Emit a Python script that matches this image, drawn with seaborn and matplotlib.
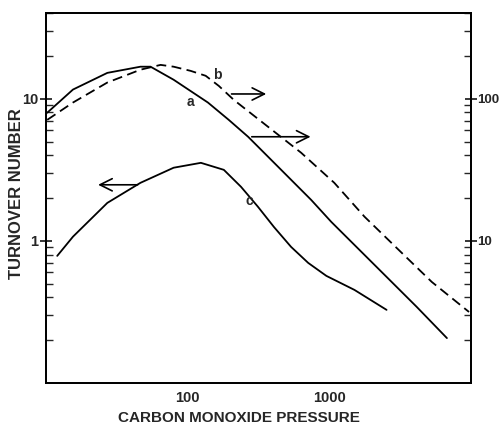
import matplotlib
matplotlib.use("Agg")
import matplotlib.pyplot as plt
import matplotlib.ticker as mticker
import seaborn as sns
import pandas as pd
import numpy as np

# ---- data ----
# curve a (solid, right axis)
a_x = [10.2, 15.5, 27.1, 46.4, 54.7, 79.6, 139, 195, 267, 457, 745, 1032, 2455, 4140, 6761]
a_y = [79.7, 116, 152, 168, 168, 136, 94, 71, 54, 31.6, 19.4, 13.6, 5.76, 3.43, 2.07]
# curve b (dashed, right axis)
b_x = [10.2, 15.5, 27.1, 46.4, 64.4, 79.6, 105, 134, 166, 212, 369, 632, 1084, 1770, 3083, 5287, 9684]
b_y = [71, 94, 130, 160, 173, 168, 157, 145, 123, 98, 63.5, 41.7, 25.6, 14.8, 8.65, 5.14, 3.16]
# curve c (solid, left axis)
c_x = [12.0, 15.5, 27.1, 46.4, 79.6, 124, 180, 238, 313, 407, 537, 709, 953, 1503, 2535]
c_y = [0.784, 1.07, 1.85, 2.56, 3.27, 3.54, 3.16, 2.40, 1.74, 1.25, 0.907, 0.70, 0.567, 0.452, 0.327]

x_ticks = [100, 1000]
left_ticks = [1, 10]
right_ticks = [10, 100]

sns.set_style("white")
plt.rcParams['font.family'] = ['Liberation Sans', 'DejaVu Sans']

fig = plt.figure(figsize=(5.0, 4.24), dpi=100)
ax = fig.add_axes([0.092, 0.0967, 0.85, 0.8723])
ax2 = ax.twinx()

dc = pd.DataFrame({"x": c_x, "y": c_y})
da = pd.DataFrame({"x": a_x, "y": a_y})
db = pd.DataFrame({"x": b_x, "y": b_y})

sns.lineplot(data=dc, x="x", y="y", ax=ax, color="black", lw=1.3, sort=False)
sns.lineplot(data=da, x="x", y="y", ax=ax2, color="black", lw=1.3, sort=False)
sns.lineplot(data=db, x="x", y="y", ax=ax2, color="black", lw=1.3, sort=False,
             dashes=False, linestyle=(0, (5.5, 3)))

for a_ in (ax, ax2):
    a_.set_xscale("log")
    a_.set_yscale("log")
    a_.set_xlim(10, 10000)
    a_.set_xlabel("")
    a_.set_ylabel("")
ax.set_ylim(0.1, 40)
ax2.set_ylim(1, 400)

ax.xaxis.set_major_locator(mticker.FixedLocator(x_ticks))
ax.xaxis.set_major_formatter(mticker.FixedFormatter([str(v) for v in x_ticks]))
ax.xaxis.set_minor_locator(mticker.LogLocator(base=10, subs=np.arange(2, 10)))
ax.xaxis.set_minor_formatter(mticker.NullFormatter())

ax.yaxis.set_major_locator(mticker.FixedLocator(left_ticks))
ax.yaxis.set_major_formatter(mticker.FixedFormatter([str(v) for v in left_ticks]))
ax.yaxis.set_minor_locator(mticker.LogLocator(base=10, subs=np.arange(2, 10)))
ax.yaxis.set_minor_formatter(mticker.NullFormatter())

ax2.yaxis.set_major_locator(mticker.FixedLocator(right_ticks))
ax2.yaxis.set_major_formatter(mticker.FixedFormatter([str(v) for v in right_ticks]))
ax2.yaxis.set_minor_locator(mticker.LogLocator(base=10, subs=np.arange(2, 10)))
ax2.yaxis.set_minor_formatter(mticker.NullFormatter())

for a_ in (ax, ax2):
    a_.tick_params(which="major", direction="inout", length=8, width=1.3,
                   labelsize=10.5, pad=1.5)
    a_.tick_params(which="minor", direction="in", length=5, width=1.0)
    for s in a_.spines.values():
        s.set_linewidth(1.3)
        s.set_color("black")
ax2.tick_params(axis="y", which="major", labelsize=9.5, pad=0.3)
ax.tick_params(axis="x", which="major", direction="in", length=8, pad=6)
ax2.tick_params(axis="x", which="both", bottom=False, labelbottom=False)
ax.tick_params(axis="y", which="both", right=False)
for lab in ax.get_xticklabels() + ax.get_yticklabels() + ax2.get_yticklabels():
    lab.set_fontweight("bold")

fig.text(0.477, 0.004, "CARBON MONOXIDE PRESSURE", fontsize=11, fontweight="bold",
         ha="center", va="baseline")
fig.text(0.034, 0.5425, "TURNOVER NUMBER", fontsize=12, fontweight="bold",
         ha="center", va="center", rotation=90)

# curve labels
ax2.text(105, 95, "a", fontsize=10, fontweight="bold", ha="center", va="center")
ax2.text(163, 147, "b", fontsize=10, fontweight="bold", ha="center", va="center")
ax.text(271, 1.91, "c", fontsize=10, fontweight="bold", ha="center", va="center")

# arrows indicating axis
arrowprops = dict(arrowstyle="->", color="black", lw=1.2, mutation_scale=22)
ax.annotate("", xy=(22.3, 2.48), xytext=(46.4, 2.48), arrowprops=arrowprops)
ax2.annotate("", xy=(375, 108), xytext=(195, 108), arrowprops=arrowprops)
ax2.annotate("", xy=(771, 54), xytext=(271, 54), arrowprops=arrowprops)

fig.savefig("out.png", dpi=100)
